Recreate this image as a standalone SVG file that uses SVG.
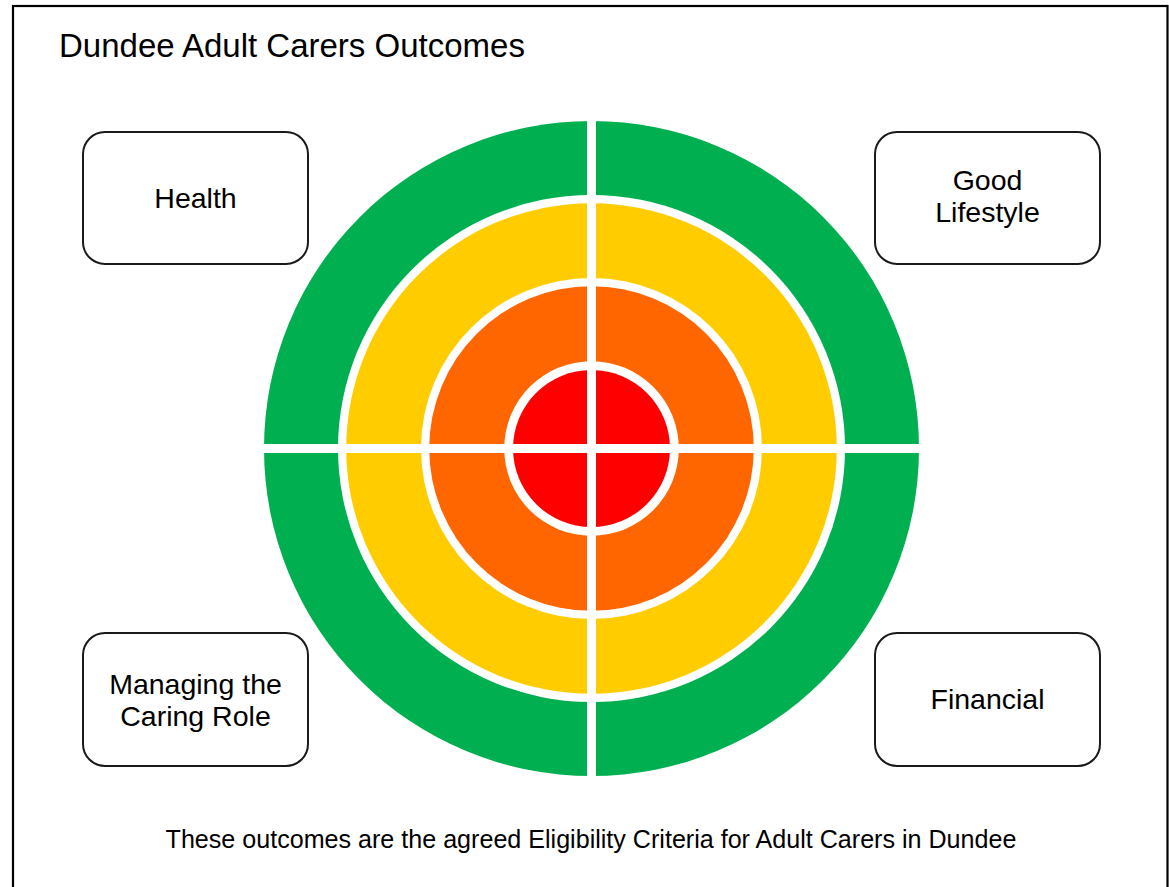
<svg xmlns="http://www.w3.org/2000/svg" width="1169" height="887" viewBox="0 0 1169 887">
<style>
text{font-family:"Liberation Sans",Arial,sans-serif;fill:#000}
.box{fill:#fff;stroke:#1a1a1a;stroke-width:2}
.lbl{font-size:28.5px;text-anchor:middle}
.gap{fill:#fff}
</style>
<rect x="0" y="0" width="1169" height="887" fill="#fff"/>
<rect x="13" y="6" width="1154.5" height="900" fill="none" stroke="#000" stroke-width="2.2"/>
<text x="59" y="57" font-size="33">Dundee Adult Carers Outcomes</text>
<g id="target">
<circle cx="591.5" cy="448.5" r="327.5" fill="#00B050"/>
<circle cx="591.5" cy="448.5" r="253.5" fill="#fff"/>
<circle cx="591.5" cy="448.5" r="245.3" fill="#FFCC00"/>
<circle cx="591.5" cy="448.5" r="170.5" fill="#fff"/>
<circle cx="591.5" cy="448.5" r="162.3" fill="#FF6600"/>
<circle cx="591.5" cy="448.5" r="87.3" fill="#fff"/>
<circle cx="591.5" cy="448.5" r="78.5" fill="#FF0000"/>
<rect class="gap" x="587" y="110" width="9" height="680"/>
<rect class="gap" x="250" y="444" width="685" height="9"/>
</g>
<g id="connectors"/>
<g id="health">
<rect class="box" x="83" y="132" width="225" height="132" rx="22"/>
<text class="lbl" x="195.5" y="207.5">Health</text>
</g>
<g id="good-lifestyle">
<rect class="box" x="875" y="132" width="225" height="132" rx="22"/>
<text class="lbl" x="987.5" y="190">Good</text>
<text class="lbl" x="987.5" y="222">Lifestyle</text>
</g>
<g id="managing">
<rect class="box" x="83" y="633" width="225" height="133" rx="22"/>
<text class="lbl" x="195.5" y="693.5">Managing the</text>
<text class="lbl" x="195.5" y="725.5">Caring Role</text>
</g>
<g id="financial">
<rect class="box" x="875" y="633" width="225" height="133" rx="22"/>
<text class="lbl" x="987.5" y="709">Financial</text>
</g>
<text x="591" y="848" font-size="25.1" text-anchor="middle">These outcomes are the agreed Eligibility Criteria for Adult Carers in Dundee</text>
</svg>
